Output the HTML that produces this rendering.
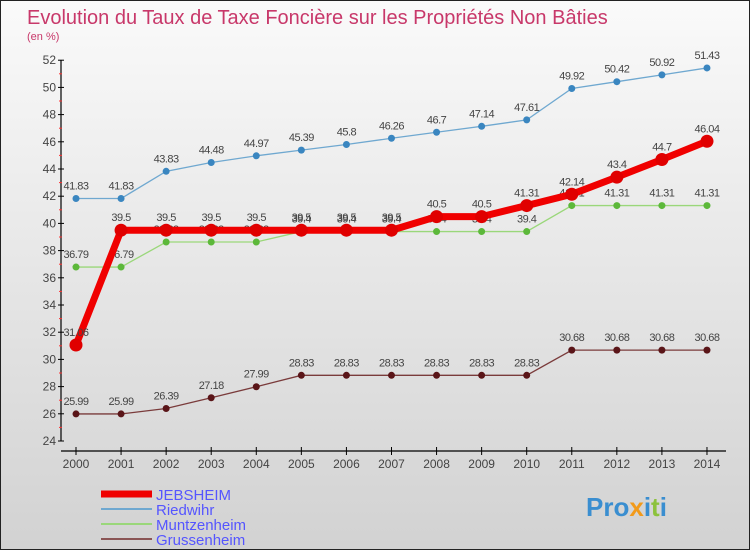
<!DOCTYPE html>
<html><head><meta charset="utf-8"><style>
body{margin:0}
#c{width:750px;height:550px;position:relative;box-sizing:border-box;border:1px solid #222;background:linear-gradient(#fafafa,#d2d2d2);overflow:hidden;font-family:"Liberation Sans",sans-serif}
</style></head><body>
<div id="c">
<svg id="s" width="750" height="550">
<text x="26" y="23" font-size="20" fill="#c8386a">Evolution du Taux de Taxe Foncière sur les Propriétés Non Bâties</text>
<text x="26" y="39" font-size="11" fill="#c8386a">(en %)</text>
</svg>
</div>
<script>
const years=[2000,2001,2002,2003,2004,2005,2006,2007,2008,2009,2010,2011,2012,2013,2014];
const jebsheim=[31.06,39.5,39.5,39.5,39.5,39.5,39.5,39.5,40.5,40.5,41.31,42.14,43.4,44.7,46.04];
const riedwihr=[41.83,41.83,43.83,44.48,44.97,45.39,45.8,46.26,46.7,47.14,47.61,49.92,50.42,50.92,51.43];
const muntzenheim=[36.79,36.79,38.63,38.63,38.63,39.4,39.4,39.4,39.4,39.4,39.4,41.31,41.31,41.31,41.31];
const grussenheim=[25.99,25.99,26.39,27.18,27.99,28.83,28.83,28.83,28.83,28.83,28.83,30.68,30.68,30.68,30.68];
const yTicks=[24,26,28,30,32,34,36,38,40,42,44,46,48,50,52];
const NS="http://www.w3.org/2000/svg",s=document.getElementById('s');
const X=i=>75+i*45.07, Y=v=>440-(v-24)*13.6;
function el(t,a,p){const e=document.createElementNS(NS,t);for(const k in a)e.setAttribute(k,a[k]);(p||s).appendChild(e);return e;}
const ax=el('g',{});


let l=el('line',{x1:60,y1:59,x2:60,y2:440,stroke:'#000','stroke-width':1.2},ax);
l=el('line',{x1:60,y1:450,x2:725,y2:450,stroke:'#000','stroke-width':1.2},ax);
yTicks.forEach(v=>{
 el('line',{x1:57,x2:63,y1:Y(v),y2:Y(v),stroke:'#000'},ax);
 if(v<52) el('line',{x1:58,x2:61,y1:Y(v+1),y2:Y(v+1),stroke:'#f33'},ax);
 const t=el('text',{x:55,y:Y(v)+4,'text-anchor':'end','font-size':12,fill:'#444'},ax);
 
 
 t.textContent=v;
});
years.forEach((y,i)=>{
 el('line',{x1:X(i),x2:X(i),y1:446,y2:454,stroke:'#000'},ax);
 const t=el('text',{x:X(i),y:467,'text-anchor':'middle','font-size':12,fill:'#444'},ax);
 
 
 t.textContent=y;
});
function series(d,name,col,dot,w,r){
 const g=el('g',{});
 
 
 el('polyline',{points:d.map((v,i)=>X(i)+','+Y(v)).join(' '),fill:'none',stroke:col,'stroke-width':w},g);
 d.forEach((v,i)=>{
  const c=el('circle',{cx:X(i),cy:Y(v),r:r,fill:dot},g);
  
  
  const t=el('text',{x:X(i),y:Y(v)-9,'text-anchor':'middle','font-size':11,fill:'#444','letter-spacing':'-0.5'},g);
  
  
  t.textContent=v;
 });
}
series(grussenheim,'grussenheim','#7a3b3b','#5a1518',1.3,3.5);
series(muntzenheim,'muntzenheim','#9ad77a','#5cb83a',1.3,3.5);
series(riedwihr,'riedwihr','#6fa8d0','#3a86c0',1.3,3.5);
series(jebsheim,'jebsheim','#f00000','#e00000',7,6.5);
const lg=[['JEBSHEIM','#f00000',7],['Riedwihr','#6fa8d0',2],['Muntzenheim','#9ad77a',2],['Grussenheim','#8a5555',2]];
lg.forEach((e,i)=>{
 const g=el('g',{});
 
 
 const y=493+i*15;
 el('line',{x1:100,x2:151,y1:y,y2:y,stroke:e[1],'stroke-width':e[2]},g);
 const t=el('text',{x:155,y:y+6,'font-size':15,fill:'#5555ff'},g);
 t.textContent=e[0];
});
const lo=el('text',{x:585,y:515,'font-size':26,'font-weight':'bold',fill:'#3a8ed0'});


lo.innerHTML='Pro<tspan fill="#f29a1a">x</tspan>i<tspan fill="#8cc23c">t</tspan>i';
</script>
</body></html>
